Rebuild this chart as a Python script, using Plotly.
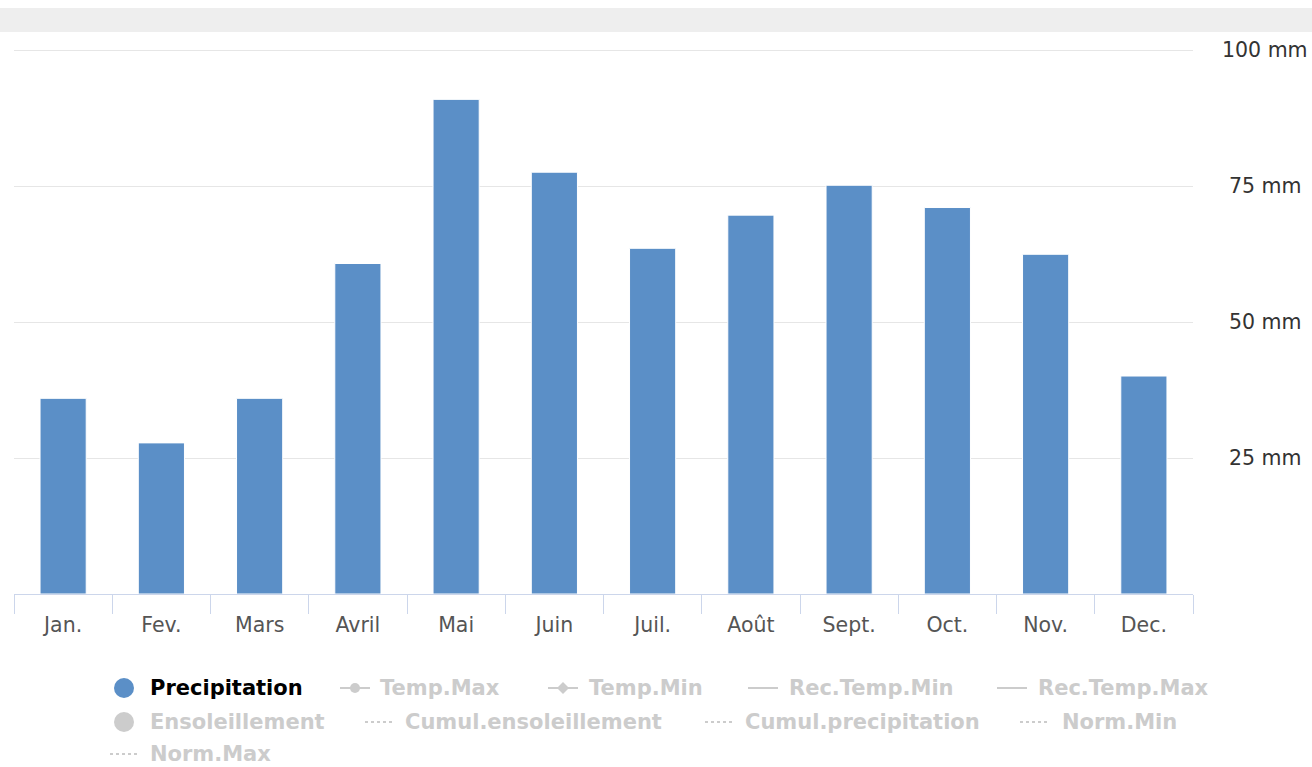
import plotly.graph_objects as go

months = ["Jan.", "Fev.", "Mars", "Avril", "Mai", "Juin", "Juil.", "Août", "Sept.", "Oct.", "Nov.", "Dec."]
precip = [36.0, 27.8, 36.0, 60.8, 91.0, 77.6, 63.6, 69.7, 75.2, 71.1, 62.5, 40.1]
ytick_vals = [25, 50, 75, 100]
ytick_text = ["25 mm", "50 mm", "75 mm", "100 mm"]

legend_row1 = ["Temp.Max", "Temp.Min", "Rec.Temp.Min", "Rec.Temp.Max"]
legend_row2 = ["Ensoleillement", "Cumul.ensoleillement", "Cumul.precipitation", "Norm.Min"]
legend_row3 = ["Norm.Max"]

BAR = "#5b8fc7"
GREY = "#cccccc"
W, H = 1312, 767
YMAX = 101
L, R, B = 14, 1193, 594
T = round(B - (B - 50) * YMAX / 100)  # so that 100 lands at y=50

def px(x):
    return (x - L) / (R - L)

def py(y):
    return (B - y) / (B - T)

fig = go.Figure()
fig.add_trace(go.Bar(x=months, y=precip, marker=dict(color=BAR, line=dict(color="white", width=1)),
                     name="Precipitation", showlegend=False))

shapes = []
annotations = []

# grey band at top
shapes.append(dict(type="rect", xref="paper", yref="paper", x0=px(0), x1=px(W), y0=py(32), y1=py(8),
                   fillcolor="#eeeeee", line=dict(width=0), layer="below"))

# y tick labels (centered)
for v, t in zip(ytick_vals, ytick_text):
    annotations.append(dict(xref="paper", yref="y", x=px(1265), y=v, text=t, showarrow=False,
                            xanchor="center", yanchor="middle",
                            font=dict(family="DejaVu Sans", size=20.5, color="#333333")))

def leg_text(x, y, text, color=GREY):
    annotations.append(dict(xref="paper", yref="paper", x=px(x), y=py(y), text="<b>%s</b>" % text,
                            showarrow=False, xanchor="left", yanchor="middle",
                            font=dict(family="DejaVu Sans", size=21, color=color)))

def circle(cx, cy, r, color):
    shapes.append(dict(type="circle", xref="paper", yref="paper", x0=px(cx - r), x1=px(cx + r),
                       y0=py(cy + r), y1=py(cy - r), fillcolor=color, line=dict(width=0)))

def hline(x0, x1, y, dash="solid", width=2):
    shapes.append(dict(type="line", xref="paper", yref="paper", x0=px(x0), x1=px(x1), y0=py(y), y1=py(y),
                       line=dict(color=GREY, width=width, dash=dash)))

def diamond(cx, cy, r):
    path = "M %f %f L %f %f L %f %f L %f %f Z" % (px(cx), py(cy - r), px(cx + r), py(cy), px(cx), py(cy + r), px(cx - r), py(cy))
    shapes.append(dict(type="path", xref="paper", yref="paper", path=path, fillcolor=GREY, line=dict(width=0)))

y1, y2, y3 = 688, 722, 754
# row 1
circle(124, y1, 10, BAR)
leg_text(148, y1, "Precipitation", "#000000")
hline(340, 370, y1); circle(355, y1, 5, GREY); leg_text(378, y1, legend_row1[0])
hline(548, 578, y1); diamond(563, y1, 6); leg_text(587, y1, legend_row1[1])
hline(748, 778, y1); leg_text(787, y1, legend_row1[2])
hline(997, 1027, y1); leg_text(1036, y1, legend_row1[3])
# row 2
circle(124, y2, 10, GREY); leg_text(148, y2, legend_row2[0])
hline(365, 395, y2, "dot"); leg_text(403, y2, legend_row2[1])
hline(705, 735, y2, "dot"); leg_text(743, y2, legend_row2[2])
hline(1020, 1050, y2, "dot"); leg_text(1060, y2, legend_row2[3])
# row 3
hline(110, 140, y3, "dot"); leg_text(148, y3, legend_row3[0])

fig.update_layout(
    width=W, height=H,
    margin=dict(l=L, r=W - R, t=T, b=H - B),
    paper_bgcolor="white", plot_bgcolor="white",
    bargap=0.53,
    showlegend=False,
    shapes=shapes, annotations=annotations,
    xaxis=dict(showline=True, linecolor="#ccd6eb", linewidth=1, ticks="outside", ticklen=19,
               tickcolor="#ccd6eb", tickwidth=1, tickson="boundaries", showgrid=False,
               ticklabelstandoff=12,
               tickfont=dict(family="DejaVu Sans", size=20.5, color="#555555")),
    yaxis=dict(side="right", range=[0, YMAX], tickvals=ytick_vals, showticklabels=False,
               gridcolor="#e6e6e6", gridwidth=1, zeroline=False, showline=False),
)

fig.write_html("out.html")
